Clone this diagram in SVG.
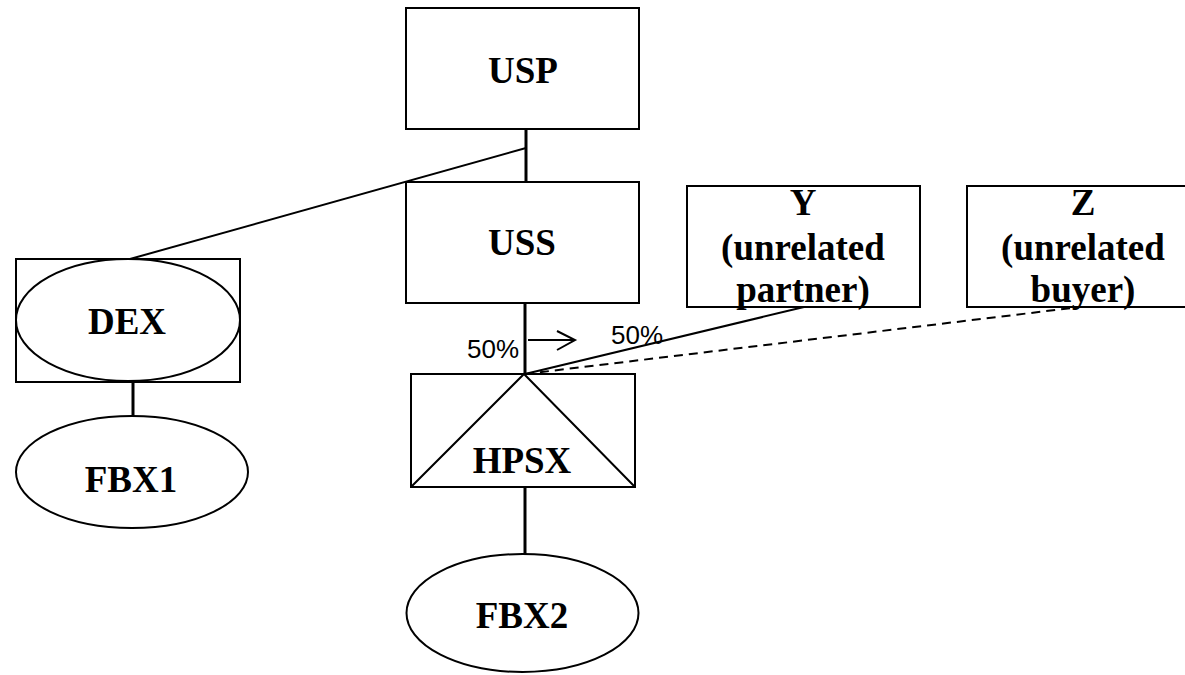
<svg xmlns="http://www.w3.org/2000/svg" width="1185" height="675" viewBox="0 0 1185 675">
<style>
.box{fill:#fff;stroke:#000;stroke-width:2}
.ln{fill:none;stroke:#000;stroke-width:2}
.th{stroke-width:3}
.dash{stroke-dasharray:9,6}
.t{font-family:"Liberation Serif","Times New Roman",serif;font-weight:bold;font-size:37px;text-anchor:middle;fill:#000}
.p{font-family:"Liberation Sans",Arial,sans-serif;font-size:26px;fill:#000}
</style>
<rect width="1185" height="675" fill="#fff"/>
<g id="connectors">
<line class="ln th" x1="526" y1="129" x2="526" y2="182"/>
<line class="ln" x1="526" y1="148" x2="130" y2="259"/>
<line class="ln th" x1="133" y1="382" x2="133" y2="416"/>
<line class="ln th" x1="525" y1="303" x2="525" y2="374"/>
<line class="ln th" x1="525" y1="487" x2="525" y2="554"/>
<line class="ln" x1="525" y1="374" x2="804" y2="307"/>
<line class="ln dash" x1="525" y1="374" x2="1072" y2="308"/>
<line class="ln" x1="528" y1="340" x2="575" y2="340"/>
<polyline class="ln" points="557,331 575,340 557,350"/>
<text class="p" x="467" y="358">50%</text>
<text class="p" x="611" y="344">50%</text>
</g>
<g id="USP">
<rect class="box" x="406" y="8" width="233" height="121"/>
<text class="t" x="523" y="83">USP</text>
</g>
<g id="USS">
<rect class="box" x="406" y="182" width="233" height="121"/>
<text class="t" x="522" y="255">USS</text>
</g>
<g id="DEX">
<rect class="box" x="16" y="259" width="224" height="123"/>
<ellipse class="box" cx="128" cy="320" rx="112" ry="61"/>
<text class="t" x="127" y="334">DEX</text>
</g>
<g id="FBX1">
<ellipse class="box" cx="132" cy="472" rx="116" ry="56"/>
<text class="t" x="131" y="492">FBX1</text>
</g>
<g id="HPSX">
<rect class="box" x="411" y="374" width="224" height="113"/>
<polyline class="ln" points="411,487 524,374 635,487"/>
<text class="t" x="522" y="473">HPSX</text>
</g>
<g id="FBX2">
<ellipse class="box" cx="522.5" cy="613" rx="116" ry="59"/>
<text class="t" x="522" y="628">FBX2</text>
</g>
<g id="Y">
<rect class="box" x="687" y="186" width="233" height="121"/>
<text class="t" x="803" y="215">Y</text>
<text class="t" x="803" y="260">(unrelated</text>
<text class="t" x="803" y="302">partner)</text>
</g>
<g id="Z">
<rect class="box" x="967" y="186" width="240" height="121"/>
<text class="t" x="1083" y="215">Z</text>
<text class="t" x="1083" y="260">(unrelated</text>
<text class="t" x="1083" y="302">buyer)</text>
</g>
</svg>
